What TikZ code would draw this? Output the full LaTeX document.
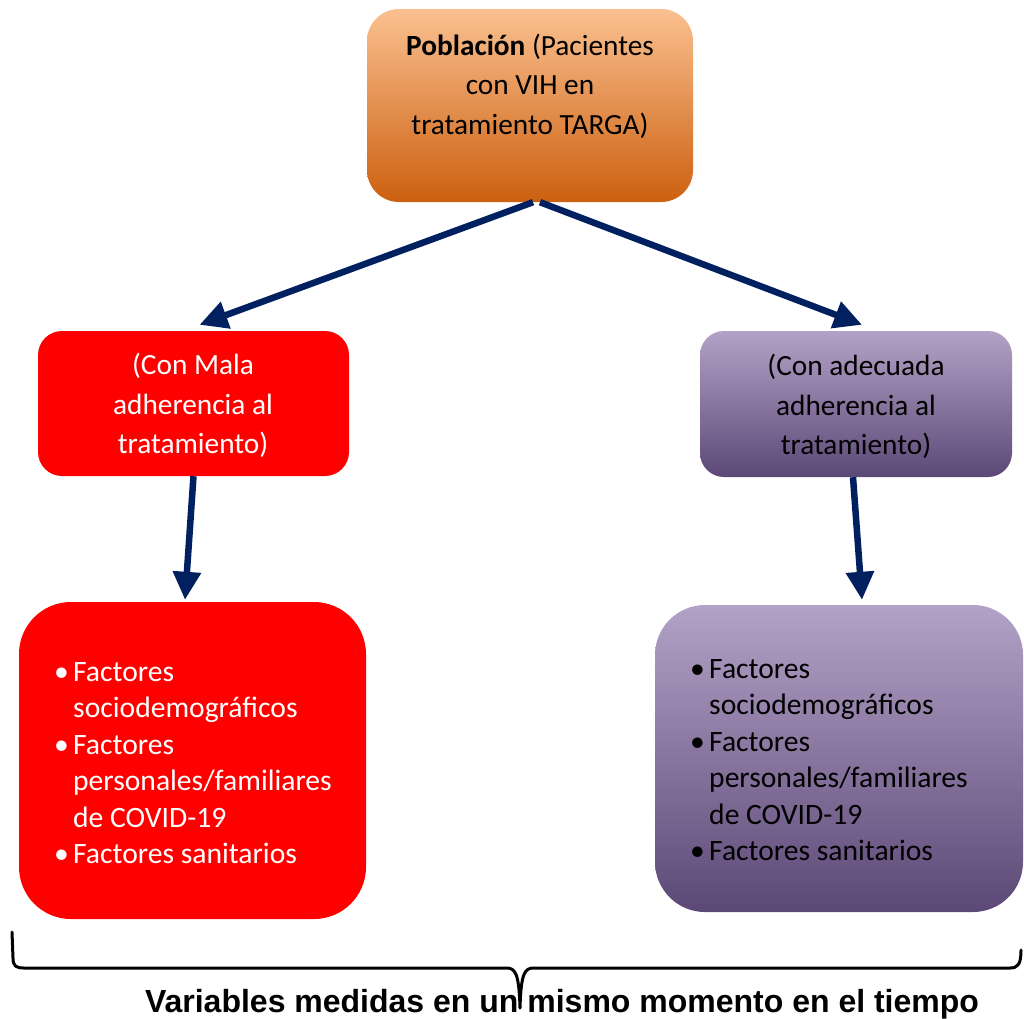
\documentclass[tikz,border=0pt]{standalone}
\usepackage{fontspec}
\setmainfont{Carlito}
\newfontfamily\arialfont{Liberation Sans}
\usetikzlibrary{arrows.meta}
\definecolor{navy}{RGB}{0,32,96}
\definecolor{orgtop}{RGB}{250,192,144}
\definecolor{orgbot}{RGB}{204,96,16}
\definecolor{purtop}{RGB}{179,162,199}
\definecolor{purbot}{RGB}{92,72,118}
\begin{document}
\begin{tikzpicture}[x=1pt,y=-1pt,
  box/.style={draw=none,inner sep=0pt},
  orgbox/.style={box,top color=orgtop,bottom color=orgbot},
  redbox/.style={box,fill=red},
  purbox/.style={box,top color=purtop,bottom color=purbot},
  txt/.style={inner sep=0pt,align=center,font=\fontsize{29.3}{39.5}\selectfont},
  listtxt/.style={inner sep=0pt,align=left,font=\fontsize{29.6}{36.4}\selectfont},
  arr/.style={draw=navy,line width=6.5pt,-{Triangle[length=28pt,width=27pt]}},
  bracestyle/.style={draw=black,line width=3pt,line join=round,line cap=round}
]
\useasboundingbox (0,0) rectangle (1024,1018);
% boxes
\node[orgbox,minimum width=326pt,minimum height=193pt,rounded corners=32pt] (top) at (530,105.5) {};
\node[redbox,minimum width=311pt,minimum height=145pt,rounded corners=24pt] (lmid) at (193.5,403.5) {};
\node[purbox,minimum width=312pt,minimum height=146pt,rounded corners=24pt] (rmid) at (856,404) {};
\node[redbox,minimum width=347pt,minimum height=317pt,rounded corners=52pt] (lbot) at (192.5,760.5) {};
\node[purbox,minimum width=368pt,minimum height=307pt,rounded corners=50pt] (rbot) at (839,758.5) {};
% texts
\node[txt] (toptxt) at (530,86) {\textbf{Población} (Pacientes\\con VIH en\\tratamiento TARGA)};
\node[txt,text=white] (lmidtxt) at (193,405.5) {(Con Mala\\adherencia al\\tratamiento)};
\node[txt] (rmidtxt) at (856,406.5) {(Con adecuada\\adherencia al\\tratamiento)};
\node[listtxt,text=white,anchor=west] (lbottxt) at (54,763) {%
\makebox[19pt][l]{•}Factores\\\hspace*{19pt}sociodemográficos\\%
\makebox[19pt][l]{•}Factores\\\hspace*{19pt}personales/familiares\\\hspace*{19pt}de COVID-19\\%
\makebox[19pt][l]{•}Factores sanitarios};
\node[listtxt,anchor=west] (rbottxt) at (690,760) {%
\makebox[19pt][l]{•}Factores\\\hspace*{19pt}sociodemográficos\\%
\makebox[19pt][l]{•}Factores\\\hspace*{19pt}personales/familiares\\\hspace*{19pt}de COVID-19\\%
\makebox[19pt][l]{•}Factores sanitarios};
% arrows
\draw[arr] ([xshift=3pt]top.south) -- ([xshift=6pt,yshift=6pt]lmid.north);
\draw[arr] ([xshift=10pt]top.south) -- ([xshift=6pt,yshift=6pt]rmid.north);
\draw[arr] (lmid.south) -- ([xshift=-7.5pt,yshift=2pt]lbot.north);
\draw[arr] ([xshift=-3pt]rmid.south) -- ([xshift=23pt,yshift=5pt]rbot.north);
% caption
\node[inner sep=0pt,anchor=base,font=\arialfont\bfseries\fontsize{32}{36}\selectfont] (cap) at (562,1012) {Variables medidas en un mismo momento en el tiempo};
% brace
\coordinate (bl) at (12,932);
\coordinate (br) at (1021,950);
\coordinate (btip) at (520,1008);
\draw[bracestyle] (bl) -- (13,958) .. controls (13,966) and (16,968) .. (24,968) -- (506,968)
  .. controls (515,968) and (519,972) .. (btip)
  .. controls (521,972) and (525,968) .. (534,968) -- (1010,968)
  .. controls (1018,968) and (1021,964) .. (br);
\end{tikzpicture}
\end{document}
